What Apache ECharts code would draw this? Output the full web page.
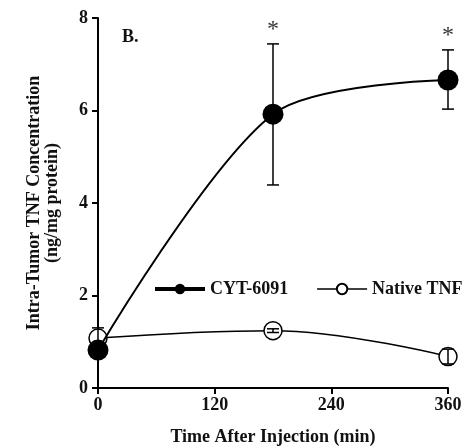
<!DOCTYPE html>
<html>
<head>
<meta charset="utf-8">
<script src="https://cdn.jsdelivr.net/npm/echarts@6/dist/echarts.min.js"></script>
<style>
  html, body { margin: 0; padding: 0; background: #fff; }
  #chart { width: 468px; height: 447px; }
</style>
</head>
<body>
<div id="chart"></div>
<script>
// values
var times = [0, 180, 360];
var cytMean = [0.82, 5.92, 6.66];
var cytUpper = [0.82, 7.44, 7.31];
var cytLower = [0.82, 4.39, 6.03];
var cytSig = [false, true, true];
var nativeMean = [1.08, 1.24, 0.68];
var nativeUpper = [1.30, 1.28, 0.84];
var nativeLower = [0.86, 1.20, 0.52];
var xTicks = [0, 120, 240, 360];

var font = '"Liberation Serif", "Times New Roman", serif';

function pairs(xs, ys) {
  return xs.map(function (x, i) { return [x, ys[i]]; });
}
function errData(xs, lo, hi, sig) {
  return xs.map(function (x, i) { return [x, lo[i], hi[i], sig ? (sig[i] ? 1 : 0) : 0]; });
}

function renderErr(params, api) {
  var x = api.value(0);
  var lo = api.coord([x, api.value(1)]);
  var hi = api.coord([x, api.value(2)]);
  var cap = 6;
  var style = { stroke: '#000', lineWidth: 1.5 };
  var children = [
    { type: 'line', shape: { x1: lo[0], y1: lo[1], x2: hi[0], y2: hi[1] }, style: style },
    { type: 'line', shape: { x1: hi[0] - cap, y1: hi[1], x2: hi[0] + cap, y2: hi[1] }, style: style },
    { type: 'line', shape: { x1: lo[0] - cap, y1: lo[1], x2: lo[0] + cap, y2: lo[1] }, style: style }
  ];
  if (api.value(3)) {
    children.push({
      type: 'text',
      style: {
        text: '*', x: hi[0], y: hi[1] - 2,
        align: 'center', verticalAlign: 'bottom',
        fill: '#333', font: '24px ' + font
      }
    });
  }
  return { type: 'group', children: children };
}

var chart = echarts.init(document.getElementById('chart'));
chart.setOption({
  animation: false,
  grid: { left: 98, right: 20, top: 18, bottom: 59, outerBoundsMode: 'none' },
  textStyle: { fontFamily: font },
  xAxis: {
    type: 'value',
    min: 0, max: 360, interval: 120,
    name: 'Time After Injection (min)',
    nameLocation: 'middle',
    nameGap: 40,
    nameTextStyle: { fontFamily: font, fontWeight: 'bold', fontSize: 18, color: '#111' },
    axisLine: { onZero: false, lineStyle: { color: '#000', width: 2 } },
    axisTick: { inside: false, length: 6, lineStyle: { color: '#000', width: 2 } },
    axisLabel: {
      fontFamily: font, fontWeight: 'bold', fontSize: 18, color: '#111', margin: 8,
      formatter: function (v) { return xTicks.indexOf(v) >= 0 ? String(v) : ''; }
    },
    splitLine: { show: false }
  },
  yAxis: {
    type: 'value',
    min: 0, max: 8, interval: 2,
    name: 'Intra-Tumor TNF Concentration\n(ng/mg protein)',
    nameLocation: 'middle',
    nameGap: 37,
    nameRotate: 90,
    nameTextStyle: { fontFamily: font, fontWeight: 'bold', fontSize: 18, color: '#111', lineHeight: 18 },
    axisLine: { onZero: false, lineStyle: { color: '#000', width: 2 } },
    axisTick: { inside: false, length: 6, lineStyle: { color: '#000', width: 2 } },
    axisLabel: { fontFamily: font, fontWeight: 'bold', fontSize: 18, color: '#111', margin: 10 },
    splitLine: { show: false }
  },
  legend: {
    orient: 'horizontal',
    data: [
      { name: 'CYT-6091', lineStyle: { width: 4 } },
      { name: 'Native TNF', lineStyle: { width: 1.5 } }
    ],
    left: 148, top: 275, width: 320,
    itemWidth: 50, itemHeight: 13, itemGap: 28,
    textStyle: { fontFamily: font, fontWeight: 'bold', fontSize: 18, color: '#111' }
  },
  graphic: [{
    type: 'text', left: 122, top: 28,
    style: { text: 'B.', font: 'bold 18px ' + font, fill: '#111' }
  }],
  series: [
    {
      name: 'Native TNF',
      type: 'line',
      data: pairs(times, nativeMean),
      smooth: 0.4,
      symbol: 'circle',
      symbolSize: 18,
      lineStyle: { color: '#000', width: 1.5 },
      itemStyle: { color: '#fff', borderColor: '#000', borderWidth: 1.5 },
      z: 3
    },
    {
      type: 'custom',
      renderItem: renderErr,
      data: errData(times, nativeLower, nativeUpper, null),
      z: 4, silent: true
    },
    {
      name: 'CYT-6091',
      type: 'line',
      data: pairs(times, cytMean),
      smooth: 0.3,
      symbol: 'circle',
      symbolSize: 21,
      lineStyle: { color: '#000', width: 2 },
      itemStyle: { color: '#000', borderColor: '#000', borderWidth: 0 },
      z: 5
    },
    {
      type: 'custom',
      renderItem: renderErr,
      data: errData(times, cytLower, cytUpper, cytSig),
      z: 6, silent: true
    }
  ]
});
</script>
</body>
</html>
